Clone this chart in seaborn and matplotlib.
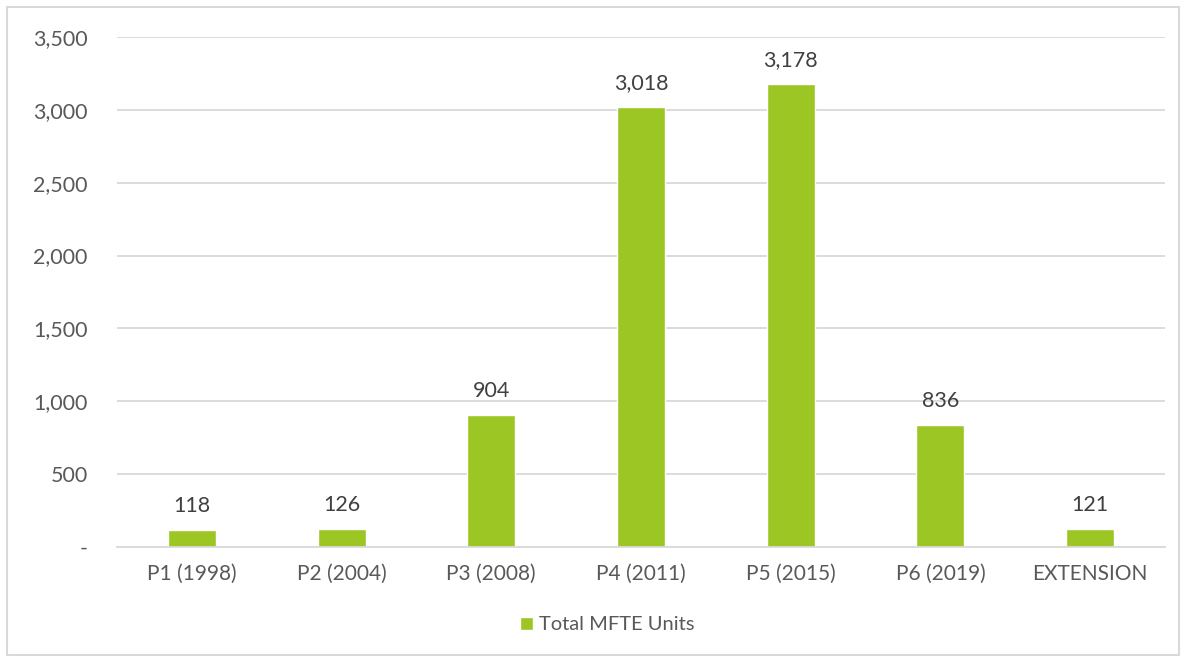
import matplotlib
matplotlib.use("Agg")
import matplotlib.pyplot as plt
import seaborn as sns
import pandas as pd
from matplotlib.patches import Rectangle, Patch
from matplotlib.ticker import FuncFormatter

categories = ["P1 (1998)", "P2 (2004)", "P3 (2008)", "P4 (2011)", "P5 (2015)", "P6 (2019)", "EXTENSION"]
units = [118, 126, 904, 3018, 3178, 836, 121]
series_name = "Total MFTE Units"

df = pd.DataFrame({"cat": categories, "units": units})

sns.set_theme(style="white")
plt.rcParams['font.family'] = ['Lato', 'DejaVu Sans']

BAR = "#9BC623"
TXT = "#404040"
TICK = "#595959"
GRID = "#D9D9D9"

fig = plt.figure(figsize=(11.86, 6.58), dpi=100)
ax = fig.add_axes([117/1186, 1-547/658, (1165-117)/1186, (547-37)/658])

sns.barplot(data=df, x="cat", y="units", color=BAR, width=0.32, saturation=1, ax=ax)

ax.set_ylim(0, 3500)
ax.set_yticks(range(0, 3501, 500))
ax.yaxis.set_major_formatter(FuncFormatter(lambda v, p: "-" if v == 0 else f"{int(v):,}"))
ax.grid(axis="y", color=GRID, linewidth=1.3)
ax.set_axisbelow(True)
for s in ["top", "right", "left"]:
    ax.spines[s].set_visible(False)
ax.spines["bottom"].set_color(GRID)
ax.spines["bottom"].set_linewidth(1.3)
ax.set_xlabel("")
ax.set_ylabel("")
ax.tick_params(axis="y", length=0, pad=21, labelsize=15.5, labelcolor=TICK)
ax.tick_params(axis="x", length=0, pad=12, labelsize=15, labelcolor=TICK)

for c in ax.containers:
    ax.bar_label(c, labels=[f"{int(v):,}" for v in units], padding=10, fontsize=15.5, color=TXT)

ax.legend(handles=[Patch(facecolor=BAR, label=series_name)], loc="center",
          bbox_to_anchor=(607/1186, 1-625/658), bbox_transform=fig.transFigure,
          frameon=False, fontsize=14.5, handlelength=0.65, handleheight=0.65,
          handletextpad=0.3, labelcolor=TICK)

fig.patches.append(Rectangle((7/1186, 3/658), 1172/1186, 648/658, transform=fig.transFigure,
                             fill=False, edgecolor=GRID, linewidth=1.5))

fig.savefig("out.png", dpi=100)
